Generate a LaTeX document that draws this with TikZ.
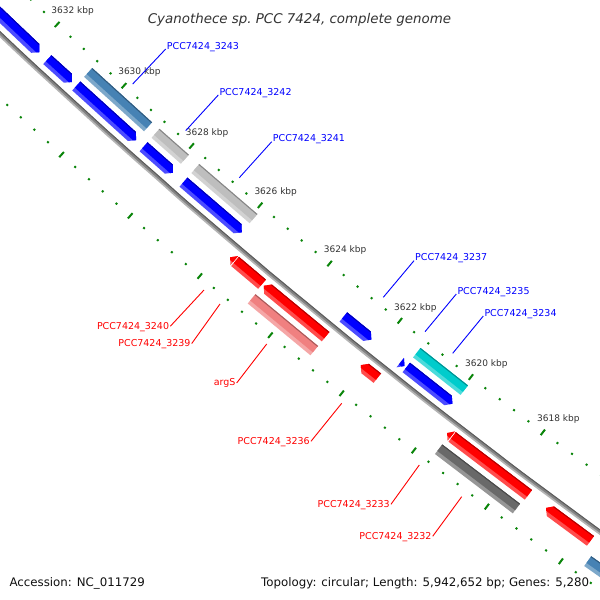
\documentclass[tikz,border=0pt]{standalone}
\usepackage{fontspec}
\setmainfont{DejaVu Sans}
\newcommand{\gbox}[4]{%
  \pgfmathsetmacro{\gband}{#3+0.68*(#4-#3)}%
  \pgfmathsetmacro{\gedge}{#3+0.5}%
  \fill[col!70!white] ({ka(#1)}:#3) -- ({ka(#2)}:#3) -- ({ka(#2)}:#4) -- ({ka(#1)}:#4) -- cycle;
  \fill[col] ({ka(#1)}:#3) -- ({ka(#2)}:#3) -- ({ka(#2)}:\gband) -- ({ka(#1)}:\gband) -- cycle;
  \draw[col!70!black, line width=1pt] ({ka(#1)}:\gedge) -- ({ka(#2)}:\gedge);
}
\newcommand{\garrow}[5]{%
  \pgfmathsetmacro{\gmid}{(#4+#5)/2}%
  \pgfmathsetmacro{\gband}{#4+0.68*(#5-#4)}%
  \pgfmathsetmacro{\gedge}{#4+0.5}%
  \pgfmathsetmacro{\gcut}{#3+0.36*(#2-#3)}%
  \fill[col!70!white] ({ka(#1)}:#4) -- ({ka(#2)}:#4) -- ({ka(#3)}:\gmid) -- ({ka(#2)}:#5) -- ({ka(#1)}:#5) -- cycle;
  \fill[col] ({ka(#1)}:#4) -- ({ka(#2)}:#4) -- ({ka(#3)}:\gmid) -- ({ka(\gcut)}:\gband) -- ({ka(#1)}:\gband) -- cycle;
  \draw[col!70!black, line width=1pt] ({ka(#1)}:\gedge) -- ({ka(#2)}:\gedge);
}
\newcommand{\gtip}[4]{%
  \pgfmathsetmacro{\gmid}{(#3+#4)/2}%
  \pgfmathsetmacro{\gband}{#3+0.68*(#4-#3)}%
  \pgfmathsetmacro{\gcut}{#2+0.36*(#1-#2)}%
  \fill[col!70!white] ({ka(#1)}:#3) -- ({ka(#2)}:\gmid) -- ({ka(#1)}:#4) -- cycle;
  \fill[col] ({ka(#1)}:#3) -- ({ka(#2)}:\gmid) -- ({ka(\gcut)}:\gband) -- ({ka(#1)}:\gband) -- cycle;
}
\begin{document}
\begin{tikzpicture}[x=1pt, y=-1pt,
  declare function={ka(\p)=133.02+(\p-3632)*0.4293;},
  genelab/.style={font=\fontsize{9.5pt}{11pt}\selectfont, text=col, inner sep=1pt},
  kbplab/.style={font=\fontsize{9pt}{10pt}\selectfont, text=col, inner sep=0pt, anchor=base}]
\useasboundingbox (0,0) rectangle (600,600);
\fill[white] (0,0) rectangle (600,600);
\clip (0,0) rectangle (600,600);
\begin{scope}[shift={(4184,-4398)}]
\definecolor{col}{HTML}{B4B4B4}
\draw[col, line width=4.5pt] plot[domain=125.5:134, samples=60] (\x:6095.5);
\definecolor{col}{HTML}{828282}
\draw[col, line width=2.5pt] plot[domain=125.5:134, samples=60] (\x:6094.7);
\definecolor{col}{HTML}{5A5A5A}
\draw[col, line width=1pt] plot[domain=125.5:134, samples=60] (\x:6093.5);
\definecolor{col}{HTML}{0A850A}
\foreach \i in {0,...,50}{
  \pgfmathsetmacro{\tpos}{3614+0.4*\i}
  \pgfmathsetmacro{\tlen}{ifthenelse(mod(\i,5)==0,3.5,1)}
  \draw[col, line width=2pt] ({ka(\tpos)}:{6049-\tlen}) -- ({ka(\tpos)}:{6049+\tlen});
  \draw[col, line width=2pt] ({ka(\tpos)}:{6142-\tlen}) -- ({ka(\tpos)}:{6142+\tlen});
}
\definecolor{col}{HTML}{333333}
\foreach \p in {3618,3620,...,3632}
  \node[kbplab, xshift=15.5pt, yshift=10.6pt] (k\p) at ({ka(\p)}:6049) {\p\ kbp};
\definecolor{col}{HTML}{0000FF}
\garrow{3634.5}{3631.99}{3631.87}{6075.5}{6087.5}
\garrow{3631.63}{3631.02}{3630.90}{6075.5}{6087.5}
\garrow{3630.77}{3629.12}{3629.00}{6075.5}{6087.5}
\garrow{3628.78}{3628.04}{3627.92}{6075.5}{6087.5}
\garrow{3627.61}{3626.04}{3625.92}{6075.5}{6087.5}
\garrow{3623.02}{3622.35}{3622.23}{6075.5}{6087.5}
\gtip{3621.42}{3621.30}{6075.5}{6087.5}
\garrow{3621.25}{3620.08}{3619.96}{6075.5}{6087.5}
\definecolor{col}{HTML}{4682B4}
\gbox{3630.78}{3629.00}{6057.5}{6069.5}
\gbox{3615.53}{3612.5}{6120}{6132}
\definecolor{col}{HTML}{BEBEBE}
\gbox{3628.78}{3627.92}{6057.5}{6069.5}
\gbox{3627.61}{3625.92}{6057.5}{6069.5}
\definecolor{col}{HTML}{00CCCC}
\gbox{3621.27}{3619.94}{6057.5}{6069.5}
\definecolor{col}{HTML}{FF0000}
\gtip{3625.645}{3625.76}{6102}{6114}
\gbox{3624.85}{3625.62}{6102}{6114}
\garrow{3623.05}{3624.68}{3624.80}{6102}{6114}
\garrow{3621.60}{3621.94}{3622.06}{6102}{6114}
\gtip{3619.545}{3619.66}{6102}{6114}
\gbox{3617.43}{3619.52}{6102}{6114}
\garrow{3615.74}{3616.83}{3616.95}{6102}{6114}
\garrow{3612.5}{3615.33}{3615.45}{6102}{6114}
\definecolor{col}{HTML}{F08080}
\gbox{3624.82}{3623.05}{6120}{6132}
\definecolor{col}{HTML}{696969}
\gbox{3619.59}{3617.46}{6120}{6132}
\end{scope}
\definecolor{col}{HTML}{0000FF}
\node[genelab, anchor=base west] (l3243) at (165.7,49) {PCC7424\_3243};
\node[genelab, anchor=base west] (l3242) at (218.3,95) {PCC7424\_3242};
\node[genelab, anchor=base west] (l3241) at (271.7,141.7) {PCC7424\_3241};
\node[genelab, anchor=base west] (l3237) at (414,260.7) {PCC7424\_3237};
\node[genelab, anchor=base west] (l3235) at (456.3,294) {PCC7424\_3235};
\node[genelab, anchor=base west] (l3234) at (483.3,316) {PCC7424\_3234};
\coordinate (f3243) at (132.7,84);
\coordinate (f3242) at (185.7,130.7);
\coordinate (f3241) at (239.3,177.7);
\coordinate (f3237) at (383.3,297.3);
\coordinate (f3235) at (425,331.7);
\coordinate (f3234) at (452.7,353.3);
\draw[col, line width=0.9pt] (l3243.base west) -- (f3243);
\draw[col, line width=0.9pt] (l3242.base west) -- (f3242);
\draw[col, line width=0.9pt] (l3241.base west) -- (f3241);
\draw[col, line width=0.9pt] (l3237.base west) -- (f3237);
\draw[col, line width=0.9pt] (l3235.base west) -- (f3235);
\draw[col, line width=0.9pt] (l3234.base west) -- (f3234);
\definecolor{col}{HTML}{FF0000}
\node[genelab, anchor=base east] (l3240) at (170.3,329) {PCC7424\_3240};
\node[genelab, anchor=base east] (l3239) at (191.7,346.3) {PCC7424\_3239};
\node[genelab, anchor=base east] (largS) at (236.7,385.7) {argS};
\node[genelab, anchor=base east] (l3236) at (311,444) {PCC7424\_3236};
\node[genelab, anchor=base east] (l3233) at (391,507) {PCC7424\_3233};
\node[genelab, anchor=base east] (l3232) at (432.7,539) {PCC7424\_3232};
\coordinate (f3240) at (204,290);
\coordinate (f3239) at (220,304);
\coordinate (fargS) at (266.7,344);
\coordinate (f3236) at (341.7,403.3);
\coordinate (f3233) at (419.3,465);
\coordinate (f3232) at (461.7,496.7);
\draw[col, line width=0.9pt] (l3240.mid east) -- (f3240);
\draw[col, line width=0.9pt] (l3239.mid east) -- (f3239);
\draw[col, line width=0.9pt] (largS.mid east) -- (fargS);
\draw[col, line width=0.9pt] (l3236.mid east) -- (f3236);
\draw[col, line width=0.9pt] (l3233.mid east) -- (f3233);
\draw[col, line width=0.9pt] (l3232.mid east) -- (f3232);
\definecolor{col}{HTML}{333333}
\node[font=\fontsize{13.4pt}{16pt}\selectfont\itshape, text=col, inner sep=0pt, anchor=base] (title) at (299.5,23.3) {Cyanothece sp.\ PCC 7424, complete genome};
\definecolor{col}{HTML}{111111}
\node[font=\fontsize{11.8pt}{14pt}\selectfont, text=col, inner sep=0pt, anchor=base west] (acc) at (9.3,586.5) {Accession: NC\_011729};
\node[font=\fontsize{11.8pt}{14pt}\selectfont, text=col, inner sep=0pt, anchor=base east] (topo) at (589.3,586.5) {Topology: circular; Length: 5,942,652 bp; Genes: 5,280};
\end{tikzpicture}
\end{document}
